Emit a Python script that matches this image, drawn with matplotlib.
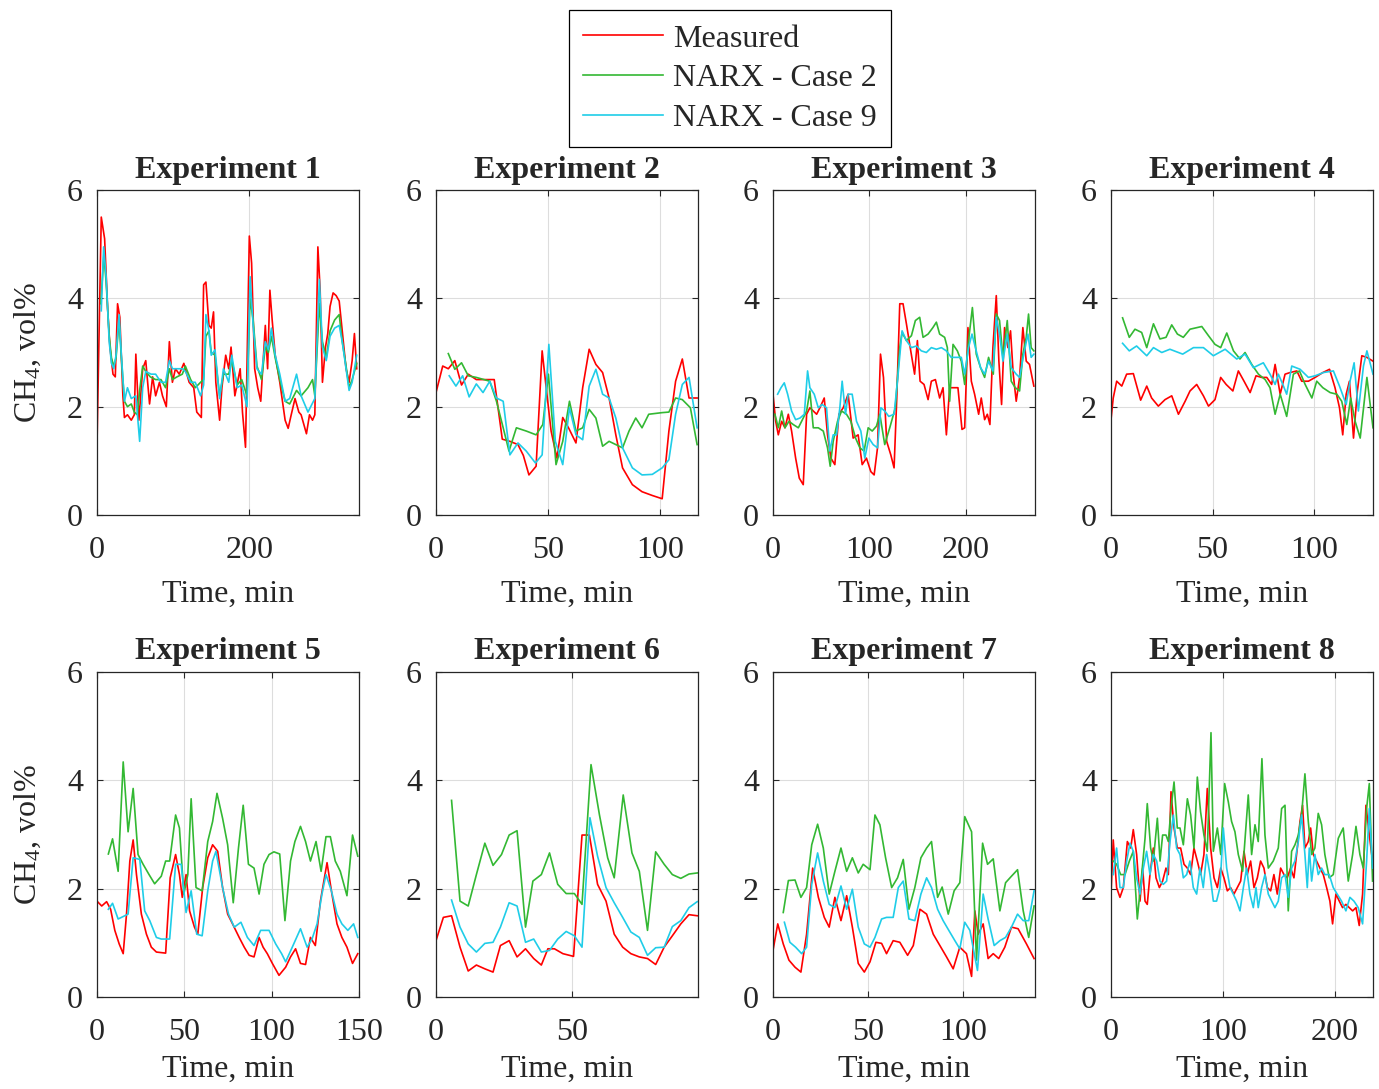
import matplotlib
matplotlib.use("Agg")
import matplotlib.pyplot as plt
from matplotlib.lines import Line2D

plt.rcParams["font.family"] = ["Liberation Serif", "DejaVu Serif"]
plt.rcParams["mathtext.fontset"] = "custom"
plt.rcParams["mathtext.rm"] = "Liberation Serif"
plt.rcParams["mathtext.it"] = "Liberation Serif:italic"
plt.rcParams["text.color"] = "#262626"
plt.rcParams["axes.labelcolor"] = "#262626"
plt.rcParams["xtick.labelcolor"] = "#262626"
plt.rcParams["ytick.labelcolor"] = "#262626"

# (time [min], CH4 [vol%]) pairs
e1_meas = [(0, 1.3), (5.6, 5.5), (10, 5.1), (14, 3.8), (17, 3.1), (21, 2.6), (24, 2.55), (27, 3.9), (30, 3.65),
           (34, 2.2), (36, 1.8), (40, 1.85), (45, 1.75), (49, 1.85), (51, 2.97), (55, 1.75), (60, 2.7), (64, 2.85),
           (69, 2.05), (73, 2.55), (77, 2.2), (82, 2.45), (86, 2.2), (91, 2.0), (95, 3.2), (99, 2.45), (103, 2.7),
           (108, 2.6), (114, 2.8), (121, 2.45), (127, 2.35), (131, 1.9), (137, 1.8), (140, 4.25), (143, 4.3),
           (147, 3.5), (150, 3.45), (153, 3.75), (156, 2.45), (161, 1.75), (164, 2.35), (169, 2.95), (173, 2.7),
           (176, 3.1), (181, 2.2), (188, 2.7), (191, 1.9), (195, 1.25), (200, 5.15), (203, 4.65), (207, 2.7),
           (211, 2.35), (215, 2.1), (221, 3.5), (224, 2.7), (227, 4.15), (230, 3.6), (234, 2.95), (240, 2.45),
           (247, 1.75), (251, 1.6), (255, 1.85), (260, 2.15), (265, 1.9), (268, 1.85), (275, 1.5), (279, 1.85),
           (283, 1.75), (286, 1.85), (290, 4.95), (293, 4.15), (296, 2.45), (300, 3.1), (303, 3.35), (306, 3.85),
           (310, 4.1), (314, 4.05), (318, 3.95), (322, 3.4), (327, 2.7), (331, 2.45), (335, 2.85), (338, 3.35),
           (341, 2.7)]
e1_case2 = [(5, 3.9), (9, 4.8), (12, 4.3), (16, 3.3), (19, 2.9), (22, 2.75), (25, 2.9), (29, 3.6), (32, 2.9),
            (36, 2.1), (40, 2.0), (45, 2.05), (49, 1.9), (53, 1.85), (56, 2.3), (60, 2.75), (64, 2.65), (70, 2.55),
            (77, 2.5), (84, 2.5), (90, 2.35), (95, 2.7), (99, 2.5), (105, 2.55), (112, 2.6), (116, 2.75), (123, 2.5),
            (129, 2.35), (136, 2.45), (140, 2.5), (143, 3.3), (147, 3.4), (150, 3.0), (155, 2.95), (161, 2.2),
            (166, 2.6), (173, 2.6), (177, 2.85), (184, 2.4), (190, 2.5), (197, 2.2), (201, 4.0), (205, 3.6),
            (210, 2.75), (216, 2.5), (221, 3.1), (225, 3.0), (229, 3.3), (234, 2.9), (240, 2.5), (247, 2.1),
            (253, 2.05), (262, 2.3), (268, 2.2), (277, 2.35), (283, 2.5), (286, 2.2), (292, 3.9), (296, 3.2),
            (301, 2.9), (306, 3.4), (312, 3.6), (318, 3.7), (322, 3.2), (327, 2.75), (331, 2.35), (335, 2.5),
            (341, 2.8)]
e1_case9 = [(5.6, 3.77), (8.7, 4.95), (12, 4.4), (16, 3.2), (19, 2.8), (22, 2.7), (25, 2.95), (29, 3.7), (32, 2.95),
            (36, 2.1), (40, 2.35), (45, 2.15), (51, 2.2), (56, 1.36), (60, 2.35), (64, 2.65), (71, 2.6), (77, 2.6),
            (84, 2.45), (90, 2.45), (95, 2.85), (99, 2.7), (105, 2.7), (112, 2.7), (116, 2.65), (123, 2.45),
            (129, 2.45), (136, 2.2), (140, 2.4), (143, 3.7), (147, 3.4), (150, 2.95), (155, 3.05), (161, 2.15),
            (166, 2.7), (173, 2.45), (177, 2.95), (184, 2.35), (190, 2.4), (197, 2.0), (201, 4.4), (205, 3.5),
            (210, 2.7), (216, 2.6), (221, 3.2), (225, 3.05), (229, 3.45), (234, 2.95), (240, 2.6), (247, 2.1),
            (253, 2.15), (262, 2.6), (268, 2.2), (277, 1.9), (286, 2.15), (292, 4.35), (296, 3.1), (301, 2.85),
            (306, 3.3), (312, 3.45), (318, 3.5), (322, 3.2), (327, 2.7), (331, 2.3), (335, 2.45), (341, 2.95)]

e2_meas = [(0, 2.26), (3, 2.75), (5.5, 2.7), (8.4, 2.85), (11.4, 2.4), (14.4, 2.6), (18, 2.5), (21, 2.5), (26, 2.5),
           (29.6, 1.4), (33, 1.36), (36.6, 1.3), (39, 1.1), (41.5, 0.74), (44.7, 0.9), (47.4, 3.03), (49.2, 2.35),
           (51.4, 1.55), (54, 1.05), (56.6, 1.8), (59.3, 1.6), (62.5, 1.33), (65.5, 2.35), (68.4, 3.06),
           (71.4, 2.78), (74.4, 2.63), (77.3, 2.16), (80.3, 1.48), (83.3, 0.87), (87.7, 0.56), (92, 0.43),
           (96.6, 0.36), (101, 0.3), (104, 1.55), (107, 2.47), (110, 2.88), (113, 2.16), (116.6, 2.16)]
e2_case2 = [(5.5, 2.98), (8.4, 2.69), (11.4, 2.81), (14.4, 2.57), (18, 2.54), (24, 2.47), (27, 2.1), (30, 1.61),
            (32.6, 1.18), (35.9, 1.61), (40.3, 1.55), (44.7, 1.48), (47.7, 1.67), (50.2, 2.6), (53.6, 0.93),
            (56.6, 1.36), (59.6, 2.1), (62.5, 1.55), (65.5, 1.61), (68.4, 1.95), (71.4, 1.79), (74.4, 1.27),
            (77.3, 1.36), (83.3, 1.24), (86.2, 1.55), (89.2, 1.79), (92, 1.61), (95, 1.86), (101, 1.89), (104, 1.9),
            (107, 2.16), (110, 2.13), (113.6, 1.98), (116.6, 1.3)]
e2_case9 = [(5.9, 2.57), (8.9, 2.38), (11.9, 2.57), (14.8, 2.18), (18, 2.42), (21, 2.26), (24, 2.47), (27, 2.16),
            (30, 2.1), (33, 1.11), (36.6, 1.33), (40.3, 1.18), (44.4, 0.96), (47.4, 1.11), (50.4, 3.15),
            (53.3, 1.36), (56.6, 0.93), (59.6, 1.98), (62.5, 1.48), (65.5, 1.39), (68.4, 2.38), (71.4, 2.69),
            (74.4, 2.23), (77.3, 2.16), (80.3, 1.79), (83.3, 1.24), (87.7, 0.87), (92, 0.74), (96.6, 0.75),
            (101, 0.87), (104, 1.02), (107, 1.86), (110, 2.41), (113, 2.54), (116.6, 1.61)]

e3_meas = [(0, 2.23), (2.8, 1.73), (5.5, 1.48), (9, 1.73), (12.4, 1.61), (15.9, 1.86), (19.3, 1.55), (23.5, 1.05),
           (27.3, 0.68), (31.4, 0.56), (34.9, 1.86), (38.3, 1.98), (41.8, 1.92), (45.3, 1.86), (48.7, 1.98),
           (53.2, 2.16), (56.6, 1.48), (60.1, 1.05), (64.2, 0.93), (68.4, 1.86), (72.9, 1.98), (78, 2.23),
           (83.2, 1.42), (88.4, 1.48), (92.6, 0.93), (97, 1.05), (101.6, 0.8), (105, 0.74), (108.5, 1.24),
           (111.6, 2.97), (114.7, 2.54), (118, 1.36), (122.3, 1.11), (125.7, 0.87), (128.5, 2.16), (131.6, 3.9),
           (135, 3.9), (138.5, 3.53), (143, 3.03), (147, 2.6), (149.9, 3.22), (152.7, 2.47), (156.8, 2.41),
           (161, 2.13), (164.4, 2.47), (168.6, 2.5), (173, 2.16), (176.5, 2.35), (180, 1.48), (183.4, 2.35),
           (188.6, 2.35), (192, 2.35), (196.2, 1.58), (199, 1.61), (202.4, 3.46), (205.9, 2.47), (209.3, 2.23),
           (213.5, 1.86), (216.2, 2.16), (219.7, 1.76), (222.5, 1.86), (225.2, 1.67), (228.3, 3.09), (231.8, 4.05),
           (234.5, 2.84), (237.3, 2.04), (240.4, 3.46), (243.9, 3.09), (246.6, 3.4), (249.4, 2.6), (252.5, 2.1),
           (256, 2.54), (259.4, 3.46), (262.9, 2.84), (266.3, 2.78), (270.8, 2.38)]
e3_case2 = [(2, 1.86), (5.5, 1.61), (9, 1.92), (12.4, 1.61), (16.6, 1.73), (21, 1.67), (26.3, 1.61), (31.4, 1.79),
            (34.9, 1.92), (38.3, 2.29), (41.8, 1.61), (47, 1.61), (52.2, 1.55), (56.6, 1.24), (59.4, 0.9),
            (62.5, 1.36), (67, 1.73), (71.2, 1.92), (76.3, 1.86), (80.8, 1.73), (85.7, 1.42), (90.2, 1.24),
            (94.6, 1.18), (98.8, 1.61), (103, 1.55), (107.4, 1.64), (110.9, 1.86), (116, 1.3), (121.2, 1.61),
            (127, 1.98), (131.6, 3.09), (134, 3.37), (138.5, 3.22), (143.7, 3.31), (147.8, 3.59), (152.3, 3.65),
            (155.8, 3.28), (161, 3.34), (166, 3.46), (169.6, 3.56), (173, 3.34), (178.2, 3.28), (181, 3.09),
            (183.4, 2.1), (186.9, 3.15), (191.4, 3.03), (195.5, 2.84), (199, 2.41), (203, 3.22), (207, 3.83),
            (211, 2.97), (215.5, 2.72), (219.7, 2.54), (223.8, 2.91), (228.7, 2.6), (231.8, 3.71), (235.2, 3.59),
            (238.7, 2.91), (243.2, 3.59), (247.3, 2.47), (251.5, 2.35), (256, 2.29), (259.4, 2.97), (262.9, 3.28),
            (265.3, 3.71), (268, 3.09), (270.8, 3.03)]
e3_case9 = [(4.8, 2.23), (8.3, 2.35), (11.7, 2.44), (15.2, 2.23), (19.3, 1.92), (23.5, 1.76), (28, 1.79),
            (32.5, 1.86), (35.9, 2.66), (38.3, 2.35), (42.8, 2.23), (47, 1.98), (51, 2.04), (55.6, 1.98), (59, 1.18),
            (62.5, 1.48), (66, 1.48), (69.4, 1.98), (71.8, 2.47), (75.3, 1.86), (78, 2.23), (82.2, 2.23),
            (86.7, 1.73), (91.2, 1.55), (95.3, 1.05), (99.5, 1.42), (104, 1.3), (108.5, 1.24), (112, 1.98),
            (116, 1.92), (120.2, 1.82), (125.7, 1.86), (129.2, 2.47), (134, 3.4), (138.5, 3.22), (143.7, 3.09),
            (148.9, 3.12), (154, 3.03), (159.2, 3.0), (164.4, 3.09), (169.6, 3.06), (174.8, 3.09), (180, 3.03),
            (185, 2.91), (190.3, 2.91), (195.5, 2.91), (199, 2.6), (203, 3.09), (206.6, 3.34), (211, 3.03),
            (215.5, 2.72), (219.7, 2.6), (223.8, 2.84), (228.3, 2.66), (231.8, 3.65), (235.2, 3.34), (238.7, 2.84),
            (243.2, 3.34), (247.3, 2.72), (252.5, 2.6), (256, 2.54), (260.4, 2.97), (264.6, 3.34), (268, 2.91),
            (270.8, 2.97)]

e4_meas = [(0, 1.76), (1.1, 2.16), (2.8, 2.47), (5.3, 2.38), (7.7, 2.6), (11, 2.61), (14.6, 2.12), (17.6, 2.38),
           (20, 2.16), (23.3, 2.01), (26.6, 2.13), (29.9, 2.2), (33.2, 1.86), (36.5, 2.1), (38.9, 2.29), (42.2, 2.41),
           (45.5, 2.2), (48, 2.01), (51.2, 2.13), (54, 2.54), (56.7, 2.41), (60, 2.29), (62.7, 2.66), (65.5, 2.47),
           (68.5, 2.26), (71.4, 2.57), (74.2, 2.54), (76.7, 2.54), (79.1, 2.41), (80.8, 2.78), (83.3, 2.23),
           (85.7, 2.6), (88.2, 2.63), (91.5, 2.66), (93.9, 2.47), (97.2, 2.47), (100.5, 2.54), (104.3, 2.63),
           (107.6, 2.69), (110.3, 2.35), (112.5, 1.98), (114.1, 1.48), (115.8, 2.23), (117.4, 2.47), (119.4, 1.42),
           (121.3, 2.29), (123.5, 2.94), (126, 2.91), (129, 2.84)]
e4_case2 = [(5.7, 3.64), (9, 3.28), (11.8, 3.43), (15.1, 3.37), (17.6, 3.09), (20.9, 3.53), (24.1, 3.25),
            (27.1, 3.28), (29.9, 3.51), (32.7, 3.34), (35.6, 3.28), (38.9, 3.43), (44.7, 3.48), (48, 3.31),
            (51.2, 3.15), (54, 3.09), (57, 3.36), (60.3, 3.03), (63.5, 2.88), (66, 3.0), (69.3, 2.78), (72.6, 2.6),
            (75.9, 2.5), (78.3, 2.35), (80.8, 1.86), (83.3, 2.23), (86.5, 1.82), (89.8, 2.6), (92.8, 2.66),
            (95.6, 2.41), (98.9, 2.16), (101.3, 2.47), (104.3, 2.35), (107.9, 2.26), (111.2, 2.23), (113.6, 2.1),
            (116.1, 1.67), (118, 2.16), (120.2, 1.73), (122.7, 1.42), (126, 2.54), (129, 1.61)]
e4_case9 = [(5.7, 3.17), (9, 3.03), (12.6, 3.12), (17.6, 2.94), (20.9, 3.09), (25, 3.0), (29, 3.06), (35.3, 2.97),
            (40.6, 3.09), (45.5, 3.09), (50.4, 2.94), (56.2, 3.06), (61.9, 2.88), (66, 2.97), (70.1, 2.72),
            (75, 2.81), (78.3, 2.6), (80.8, 2.41), (82.4, 2.6), (84.6, 2.41), (86.5, 2.23), (89, 2.75), (93.1, 2.69),
            (97.2, 2.54), (100.5, 2.57), (104.6, 2.63), (109.5, 2.66), (112.5, 2.38), (115.8, 2.04), (117.7, 2.47),
            (119.7, 2.81), (121.8, 1.92), (124.3, 2.75), (126, 3.03), (129, 2.6)]

e5_meas = [(0, 1.77), (2.7, 1.68), (5.5, 1.76), (7.8, 1.62), (10.2, 1.23), (12.7, 0.98), (15, 0.8), (16.9, 1.53),
           (18.8, 2.51), (20.7, 2.9), (22.6, 2.26), (25.4, 1.53), (28.3, 1.16), (31.1, 0.92), (34, 0.83),
           (39.3, 0.81), (41.9, 2.2), (45, 2.63), (47.2, 2.26), (48.8, 1.84), (51, 2.26), (53, 1.59), (55.8, 1.29),
           (57.7, 1.16), (60.5, 2.02), (63.4, 2.57), (66.2, 2.81), (69.1, 2.69), (71.9, 2.02), (74.8, 1.53),
           (77.6, 1.35), (81.4, 1.1), (84.3, 0.92), (87.1, 0.77), (89.9, 0.74), (92.8, 1.1), (95.1, 0.92),
           (97.5, 0.8), (100.4, 0.62), (104.2, 0.4), (108, 0.55), (110.8, 0.74), (113.7, 0.89), (116.5, 0.62),
           (119.4, 0.6), (122.2, 1.1), (125, 0.95), (127.9, 1.77), (131.7, 2.48), (134.5, 1.9), (137.4, 1.35),
           (140.2, 1.1), (143.1, 0.92), (146.3, 0.62), (149.3, 0.8)]
e5_case2 = [(6.5, 2.64), (8.9, 2.92), (12.1, 2.32), (15, 4.34), (17.8, 3.05), (20.7, 3.85), (23.5, 2.63),
            (26.4, 2.45), (29.8, 2.26), (33, 2.09), (36.8, 2.23), (39.3, 2.51), (41.6, 2.51), (45, 3.36), (47.2, 3.12),
            (49.7, 1.9), (52, 2.26), (53.9, 3.66), (56.7, 2.02), (60.2, 1.96), (63.4, 2.87), (66.2, 3.24),
            (68.7, 3.76), (71.9, 3.3), (74.8, 2.81), (78, 1.74), (81, 2.75), (83.7, 3.54), (86.7, 2.45), (89.9, 2.38),
            (92.8, 1.9), (95.6, 2.45), (98.5, 2.63), (101.3, 2.68), (104.6, 2.64), (107.6, 1.41), (110.8, 2.51),
            (113.3, 2.87), (116.5, 3.15), (119.4, 2.87), (122.2, 2.51), (125.4, 2.87), (128.3, 2.32), (131.1, 2.96),
            (133.6, 2.96), (136.4, 2.51), (139.3, 2.32), (143.1, 1.87), (146.3, 2.99), (149.3, 2.6)]
e5_case9 = [(6.5, 1.62), (8.9, 1.73), (12.1, 1.44), (15.9, 1.5), (17.8, 1.53), (20.7, 2.57), (24.5, 2.54),
            (27.3, 1.59), (30.2, 1.41), (34, 1.1), (36.8, 1.07), (41.6, 1.07), (45, 2.45), (48.2, 2.45), (51, 1.56),
            (53.9, 1.96), (57.1, 1.16), (60.2, 1.13), (63.4, 1.96), (66.2, 2.51), (68.1, 2.69), (71.9, 2.02),
            (75.3, 1.53), (78.6, 1.29), (82.4, 1.38), (86.1, 1.1), (89.9, 0.95), (93.7, 1.23), (98.5, 1.23),
            (102.3, 0.98), (105.7, 0.8), (108, 0.65), (111.8, 0.92), (116.5, 1.26), (120.3, 0.92), (123.1, 1.07),
            (126, 1.35), (128.8, 1.9), (131.1, 2.26), (134.2, 1.96), (137.4, 1.53), (140.2, 1.35), (143.6, 1.23),
            (146.9, 1.35), (149.3, 1.1)]

e6_meas = [(0, 1.04), (2.7, 1.47), (5.7, 1.5), (8.8, 0.92), (11.8, 0.48), (14.8, 0.59), (17.9, 0.52), (20.9, 0.46),
           (23.6, 0.95), (26.8, 1.04), (29.7, 0.74), (32.8, 0.89), (35.8, 0.71), (38.6, 0.59), (41, 0.89),
           (43.4, 0.89), (46.5, 0.8), (50.4, 0.75), (53.5, 2.99), (56.2, 2.99), (59.2, 2.08), (62.3, 1.77),
           (65.3, 1.16), (68.4, 0.92), (71.4, 0.8), (74.5, 0.74), (77.5, 0.71), (80.5, 0.6), (83.6, 0.92),
           (86.6, 1.13), (89.7, 1.35), (92.7, 1.52), (95.7, 1.5)]
e6_case2 = [(5.7, 3.63), (8.8, 1.77), (11.8, 1.68), (14.8, 2.26), (17.9, 2.84), (20.9, 2.43), (24, 2.63),
            (26.8, 2.99), (29.7, 3.07), (32.8, 1.29), (35.5, 2.14), (38.6, 2.26), (41.6, 2.66), (44.6, 2.08),
            (47.7, 1.91), (50.7, 1.91), (53.5, 1.71), (56.8, 4.29), (59.9, 3.36), (62.9, 2.57), (65.3, 2.2),
            (68.6, 3.73), (71.8, 2.66), (74.5, 2.32), (77.5, 1.23), (80.5, 2.68), (83.6, 2.45), (86.6, 2.26),
            (89.7, 2.19), (92.7, 2.27), (95.7, 2.29)]
e6_case9 = [(5.7, 1.79), (8.8, 1.29), (11.8, 0.98), (14.8, 0.83), (17.9, 0.99), (20.9, 1.01), (23.6, 1.29),
            (26.8, 1.74), (29.7, 1.68), (32.8, 1.01), (35.8, 1.07), (38.6, 0.83), (41.6, 0.86), (44.6, 1.07),
            (47.7, 1.21), (50.7, 1.13), (53.5, 0.92), (56.4, 3.31), (59.2, 2.6), (62.3, 2.02), (65.3, 1.74),
            (68.4, 1.47), (71.4, 1.2), (74.5, 1.1), (77.5, 0.77), (80.5, 0.91), (83.6, 0.92), (86.6, 1.3),
            (89.7, 1.41), (92.7, 1.65), (95.7, 1.76)]

e7_meas = [(0, 0.86), (2.5, 1.35), (5.4, 0.98), (8.4, 0.68), (11.6, 0.55), (14.7, 0.46), (17.7, 1.16), (20.9, 2.38),
           (23.9, 1.84), (27, 1.47), (29.6, 1.29), (32.6, 1.84), (35.8, 1.41), (38.8, 1.87), (41.8, 1.29),
           (44.9, 0.62), (48.1, 0.46), (51.1, 0.65), (54.2, 1.01), (57.2, 0.99), (59.8, 0.8), (63.3, 1.04),
           (66.8, 1.01), (70.9, 0.77), (73.9, 0.95), (77.4, 1.62), (80.9, 1.53), (84.4, 1.16), (87.9, 0.95),
           (91.4, 0.74), (94.9, 0.52), (98.4, 0.92), (101.9, 0.8), (104.6, 0.38), (106.3, 1.59), (108.1, 1.16),
           (110.7, 1.35), (113.3, 0.71), (116, 0.8), (118.9, 0.71), (122.1, 0.92), (125.6, 1.29), (129.1, 1.26),
           (133.5, 0.98), (137.5, 0.71)]
e7_case2 = [(5.4, 1.56), (8.1, 2.15), (11.6, 2.16), (14.7, 1.84), (17.7, 2.02), (20.4, 2.81), (23.5, 3.19),
            (26.5, 2.75), (29.6, 1.9), (32.6, 2.32), (35.8, 2.75), (38.8, 2.32), (41.8, 2.57), (44.9, 2.29),
            (47.5, 2.45), (51.1, 2.35), (53.7, 3.36), (56.3, 3.18), (59.3, 2.57), (62.5, 2.02), (65.6, 2.2),
            (68.6, 2.54), (71.6, 1.62), (74.7, 2.02), (77.9, 2.57), (80.9, 2.75), (83.5, 2.87), (86.7, 1.84),
            (89.1, 2.03), (92.3, 1.53), (95.4, 1.96), (98.4, 2.11), (101, 3.33), (104.6, 3.05), (107.2, 0.68),
            (110.4, 2.84), (113, 2.45), (116, 2.55), (119.5, 1.59), (122.5, 2.11), (125.6, 2.23), (128.8, 2.35),
            (131.8, 1.59), (134.7, 1.1), (137.5, 1.68)]
e7_case9 = [(6, 1.38), (8.9, 1.01), (11.9, 0.92), (15.1, 0.8), (17.7, 0.92), (20.4, 2.08), (23.5, 2.66), (26.5, 2.14),
            (29.6, 1.71), (32.6, 1.65), (35.8, 2.05), (38.8, 1.62), (41.8, 1.99), (44.9, 1.29), (48.1, 0.98),
            (51.1, 0.92), (53.7, 1.1), (57.2, 1.44), (59.8, 1.47), (63.3, 1.47), (66, 2.02), (68.6, 2.14),
            (71.6, 1.44), (74.7, 1.41), (77.9, 1.9), (80.9, 2.2), (83.5, 2.02), (86.7, 1.62), (89.6, 1.41),
            (92.6, 1.23), (95.8, 1.04), (98.4, 0.89), (101, 1.38), (103.7, 1.23), (106, 0.8), (107.7, 0.49),
            (110.7, 1.9), (113.3, 1.44), (116.5, 0.95), (119.5, 1.04), (122.5, 1.1), (125.6, 1.29), (128.8, 1.53),
            (131.8, 1.41), (134.7, 1.41), (137.5, 1.96)]

e8_meas = [(0, 1.9), (2, 2.9), (5, 2.02), (8, 1.84), (11, 2.02), (14.6, 2.87), (17.6, 2.75), (19.9, 3.09),
           (22.9, 2.63), (25.9, 1.77), (28.3, 2.38), (30.4, 1.77), (32.4, 1.71), (34.8, 2.26), (37.8, 2.75),
           (40.2, 2.2), (43.2, 2.02), (46.1, 2.14), (49.1, 2.38), (51.2, 2.26), (53.6, 3.79), (56.3, 3.12),
           (59.2, 2.75), (62.2, 2.75), (65.2, 2.45), (68.2, 2.38), (71.1, 2.26), (74.1, 2.75), (77.1, 2.51),
           (80, 2.26), (83, 2.63), (86, 3.85), (89, 2.75), (92, 2.2), (95, 2.02), (98, 2.38), (100.9, 2.2),
           (103.9, 1.96), (106.8, 2.02), (109.8, 1.9), (112.8, 2.02), (115.8, 2.14), (118.8, 2.69), (121.7, 2.26),
           (124.7, 2.51), (127.7, 2.02), (130.7, 2.2), (133.6, 2.51), (136.6, 2.38), (139.6, 2.02), (142.6, 1.96),
           (145.5, 2.26), (148.5, 1.9), (151.5, 2.38), (154.5, 2.26), (157.4, 2.2), (160.4, 2.38), (163.4, 2.2),
           (166.4, 2.75), (168.8, 3.24), (171.1, 3.54), (173.2, 2.75), (176.2, 2.87), (178.3, 3.12), (180.7, 2.63),
           (183.6, 2.51), (186.6, 2.38), (189.6, 2.26), (192.6, 2.02), (195.5, 1.77), (197.9, 1.35), (200.9, 1.9),
           (203.9, 1.77), (206.8, 1.65), (209.8, 1.71), (212.8, 1.65), (215.8, 1.59), (218.8, 1.65), (221.7, 1.32),
           (224.7, 1.9), (227.7, 3.54), (230.7, 2.99), (233.6, 2.51)]
e8_case2 = [(2, 2.51), (5, 2.45), (8.6, 2.26), (12.5, 2.26), (16.4, 2.51), (19.9, 2.69), (23.5, 1.44), (27.4, 2.26),
            (30.4, 2.93), (32.4, 3.57), (35.4, 2.75), (37.8, 2.51), (41.4, 3.3), (43.8, 2.51), (46.1, 2.99),
            (49.1, 2.99), (51.2, 2.87), (53.6, 3.48), (56.3, 3.97), (59.2, 3.12), (61.6, 3.12), (64.6, 2.81),
            (68.2, 3.66), (71.1, 3.36), (74.1, 2.75), (77.1, 4.06), (80, 3.42), (83, 2.99), (86, 2.69), (89.3, 4.88),
            (91.4, 2.69), (95, 3.12), (98, 2.63), (101.5, 3.94), (104.8, 3.6), (107.7, 3.24), (110.7, 3.05),
            (113.7, 2.63), (117.6, 2.32), (122.6, 3.73), (125.6, 2.63), (128.6, 3.18), (131.5, 2.87), (134.8, 4.4),
            (137.5, 2.99), (140.5, 2.38), (144.9, 2.51), (149.4, 2.75), (152.4, 3.48), (155.4, 3.54), (158.3, 1.59),
            (161.3, 2.69), (164.3, 2.81), (167.3, 2.99), (170.2, 3.36), (173.2, 4.12), (176.2, 3.24), (179.2, 2.63),
            (182.1, 2.75), (185.1, 3.39), (188.1, 3.18), (191, 2.63), (194.9, 2.2), (198.5, 2.26), (203, 2.93),
            (207.4, 3.12), (211.9, 2.14), (215.8, 2.63), (218.8, 3.15), (222.3, 2.63), (225.3, 2.38), (228.3, 3.48),
            (230.7, 3.94), (233.6, 2.14)]
e8_case9 = [(2, 2.26), (5, 2.75), (8, 2.02), (11, 2.02), (14, 2.51), (17, 2.84), (19.9, 2.69), (22.9, 2.2),
            (25.9, 1.9), (28.9, 2.38), (31.8, 2.69), (34.8, 2.26), (37.8, 2.63), (40.8, 2.51), (43.8, 2.14),
            (46.7, 2.08), (49.7, 2.14), (52.7, 2.87), (55.7, 3.36), (58.6, 2.75), (61.6, 2.63), (64.6, 2.2),
            (67.6, 2.26), (70.5, 2.51), (73.5, 2.02), (76.5, 1.9), (79.5, 2.38), (82.4, 2.02), (85.4, 2.63),
            (88.4, 2.26), (91.4, 1.77), (94.3, 1.77), (97.3, 2.02), (100.3, 3.12), (103.3, 2.38), (106.3, 2.02),
            (109.2, 1.9), (112.2, 1.77), (115.2, 1.59), (118.2, 2.02), (121.1, 2.38), (124.1, 1.9), (127.1, 1.65),
            (129.5, 2.02), (131.5, 1.65), (134.5, 2.02), (137.5, 2.26), (140.5, 1.9), (143.5, 1.77), (146.4, 1.65),
            (149.4, 1.77), (152.4, 2.2), (155.4, 2.26), (158.3, 1.84), (161.3, 2.38), (164.3, 2.51), (167.3, 2.87),
            (170.2, 3.36), (173.2, 2.63), (175.3, 2.02), (177.1, 2.75), (179.2, 2.14), (182.1, 2.63), (185.1, 2.26),
            (188.1, 2.38), (191, 2.26), (194.9, 2.26), (198.5, 2.02), (202, 1.9), (205.9, 1.77), (209.8, 1.59),
            (213.4, 1.84), (217, 1.77), (220.8, 1.65), (224.7, 1.35), (228.3, 2.51), (230.7, 3.48), (233.6, 2.38)]

titles = ["Experiment 1", "Experiment 2", "Experiment 3", "Experiment 4",
          "Experiment 5", "Experiment 6", "Experiment 7", "Experiment 8"]
x_max = [344, 117, 272, 129, 150, 96, 138, 234]
x_ticks = [[0, 200], [0, 50, 100], [0, 100, 200], [0, 50, 100],
           [0, 50, 100, 150], [0, 50], [0, 50, 100], [0, 100, 200]]
y_ticks = [0, 2, 4, 6]
series_names = ["Measured", "NARX - Case 2", "NARX - Case 9"]
colors = ["#ff0000", "#33b833", "#1fcde8"]

experiments = [
    (e1_meas, e1_case2, e1_case9), (e2_meas, e2_case2, e2_case9),
    (e3_meas, e3_case2, e3_case9), (e4_meas, e4_case2, e4_case9),
    (e5_meas, e5_case2, e5_case9), (e6_meas, e6_case2, e6_case9),
    (e7_meas, e7_case2, e7_case9), (e8_meas, e8_case2, e8_case9),
]

FS = 23
fig = plt.figure(figsize=(13.79, 10.89), dpi=100)
lefts = [97, 436, 773, 1111]
bottoms = [515, 997]
W, H = 1379.0, 1089.0

for i, series in enumerate(experiments):
    row, col = divmod(i, 4)
    ax = fig.add_axes([lefts[col] / W, 1 - bottoms[row] / H, 262 / W, 325 / H])
    for data, c in zip(series, colors):
        t = [p[0] for p in data]
        v = [p[1] for p in data]
        ax.plot(t, v, color=c, linewidth=1.2)
    ax.set_xlim(0, x_max[i])
    ax.set_ylim(0, 6)
    ax.set_xticks(x_ticks[i])
    ax.set_yticks(y_ticks)
    ax.grid(True, color="#dddddd", linewidth=0.8)
    ax.set_axisbelow(True)
    ax.tick_params(direction="in", top=True, right=True, labelsize=FS,
                   length=4, width=0.8, color="#262626")
    ax.tick_params(axis="x", pad=15)
    ax.tick_params(axis="y", pad=10)
    for s in ax.spines.values():
        s.set_color("#262626")
        s.set_linewidth(0.9)
    ax.set_title(titles[i], fontsize=FS, fontweight="bold", pad=9)
    # bottom row label sits a little higher so it stays inside the canvas
    ax.set_xlabel("Time, min", fontsize=FS, labelpad=11 if row == 0 else 6)
    if col == 0:
        ax.set_ylabel("CH$_4$, vol%", fontsize=FS, labelpad=17)

handles = [Line2D([], [], color=c, linewidth=1.2) for c in colors]
leg = fig.legend(handles, series_names, loc="upper center", bbox_to_anchor=(0.5294, 0.991),
                 fontsize=FS, frameon=True, fancybox=False, framealpha=1, edgecolor="black",
                 handlelength=2.5, handletextpad=0.3, labelspacing=0.32, borderpad=0.45,
                 borderaxespad=0)
leg.get_frame().set_linewidth(0.9)

fig.savefig("out.png", dpi=100)
